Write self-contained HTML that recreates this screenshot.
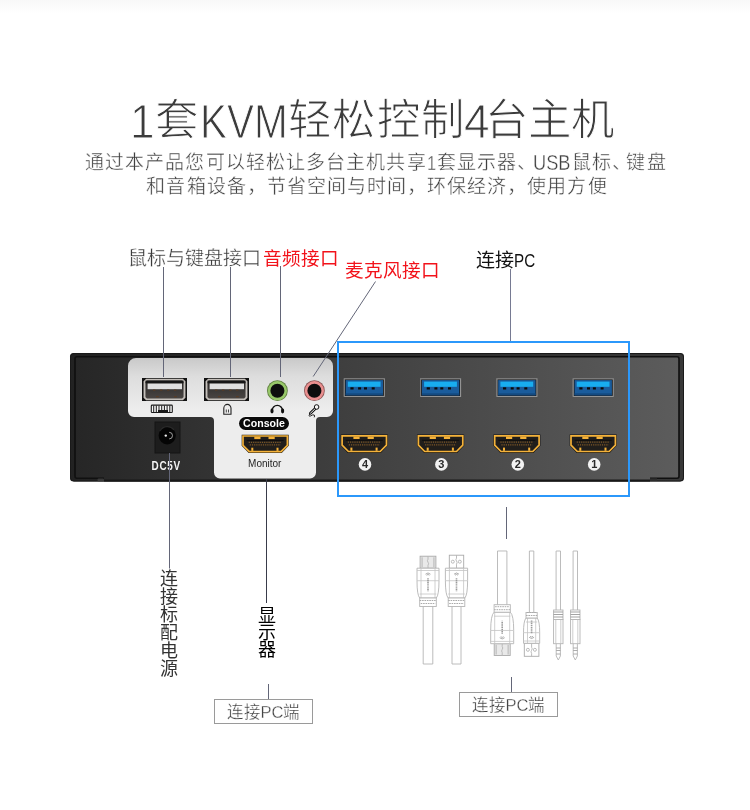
<!DOCTYPE html>
<html lang="zh-CN"><head><meta charset="utf-8">
<style>
html,body{margin:0;padding:0;background:#fff;width:750px;height:810px;overflow:hidden}
body{position:relative;font-family:"Liberation Sans",sans-serif}
.t{position:absolute;white-space:nowrap;line-height:1;will-change:transform}
svg{position:absolute;left:0;top:0}
</style></head><body>
<div style="position:absolute;left:0;top:0;width:750px;height:14px;background:linear-gradient(#f8f8f8,#fff)"></div>
<div class="t" id="title" style="left:130px;top:99px;font-size:43.5px;color:#3c3c3c;-webkit-text-stroke:1px #fff;"><span style="display:inline-block;font-size:49px;line-height:20px;position:relative;top:2.8px;transform:scaleX(0.9);transform-origin:0 0;margin-left:0px;margin-right:-2px">1</span>套<span style="display:inline-block;font-size:49px;line-height:20px;position:relative;top:2.8px;transform:scaleX(0.825);transform-origin:0 0;margin-left:2px;margin-right:-18.5px">KVM</span><span style="letter-spacing:1.5px">轻松控</span>制<span style="display:inline-block;font-size:49px;line-height:20px;position:relative;top:2.8px;transform:scaleX(0.94);transform-origin:0 0;margin-left:0px;margin-right:-6.6px">4</span>台主机</div>
<div class="t" id="sub1" style="left:85px;top:153px;font-size:19px;letter-spacing:1.1px;color:#404040;-webkit-text-stroke:0.4px #fff;">通过本产品您可以轻松让多台主机共享<span style="display:inline-block;font-size:20.5px;line-height:10px;position:relative;top:0.8px;transform:scaleX(0.8);transform-origin:0 0;margin-left:0px;margin-right:-1.5px;letter-spacing:0">1</span>套显示器<span style="margin-right:-4px">、</span><span style="display:inline-block;font-size:22.8px;line-height:10px;position:relative;top:0.8px;transform:scaleX(0.8);transform-origin:0 0;margin-left:0px;margin-right:-7.8px;letter-spacing:0">USB</span>鼠标<span style="margin-right:-6.1px">、</span>键盘</div>
<div class="t" id="sub2" style="left:0;width:750px;text-align:center;top:177px;font-size:19px;letter-spacing:1.05px;color:#404040;margin-left:2px;-webkit-text-stroke:0.4px #fff;">和音箱设备，节省空间与时间，环保经济，使用方便</div>

<div class="t" id="l1" style="left:128px;top:249px;font-size:19px;color:#3a3a3a;-webkit-text-stroke:0.3px #fff;">鼠标与键盘接口</div>
<div class="t" id="l2" style="left:263px;top:249.5px;font-size:18.6px;color:#f2121a">音频接口</div>
<div class="t" id="l3" style="left:344.5px;top:262px;font-size:18.6px;color:#f2121a">麦克风接口</div>
<div class="t" id="l4" style="left:476px;top:251px;font-size:19px;color:#111">连接<span style="display:inline-block;transform:scaleX(0.8);transform-origin:0 0">PC</span></div>

<svg width="750" height="810" viewBox="0 0 750 810">
<defs>
<linearGradient id="face" x1="74" x2="679" y1="0" y2="0" gradientUnits="userSpaceOnUse">
<stop offset="0" stop-color="#262626"/><stop offset="0.5" stop-color="#424242"/><stop offset="1" stop-color="#5c5c5c"/>
</linearGradient>
<linearGradient id="rim" x1="70" x2="684" y1="0" y2="0" gradientUnits="userSpaceOnUse"><stop offset="0" stop-color="#222"/><stop offset="1" stop-color="#383838"/></linearGradient>
<linearGradient id="panel" x1="0" y1="358" x2="0" y2="410" gradientUnits="userSpaceOnUse">
<stop offset="0" stop-color="#c9c9c9"/><stop offset="0.35" stop-color="#dddddd"/><stop offset="1" stop-color="#ededed"/>
</linearGradient>

<linearGradient id="usbin" x1="0" y1="0" x2="0" y2="1">
<stop offset="0" stop-color="#2a2827"/><stop offset="1" stop-color="#4a4644"/>
</linearGradient>
<g id="usba">
<rect x="0" y="0" width="45" height="23" fill="#121212"/>
<path d="M4.5,1.6 H40.5 L42.5,3.6 V19.4 L40.5,21.4 H4.5 L2.5,19.4 V3.6 Z" fill="url(#usbin)" stroke="#c4bfba" stroke-width="1.9"/>
<rect x="5.6" y="5.4" width="34.4" height="5.8" fill="#e0e0e0"/>
<rect x="3.5" y="2.6" width="38" height="2.6" fill="#161616"/>
<g fill="#5e3c22"><rect x="11" y="11.6" width="2.4" height="1"/><rect x="18" y="11.6" width="2.4" height="1"/><rect x="25" y="11.6" width="2.4" height="1"/><rect x="32" y="11.6" width="2.4" height="1"/><rect x="14" y="18.2" width="2.8" height="1"/><rect x="32" y="18.2" width="2.8" height="1"/></g>
</g>
<g id="usb3">
<rect x="0.5" y="0.5" width="40" height="17.6" fill="#0e0e0e" stroke="#a0a0a0" stroke-width="1"/>
<path d="M0.5,18.1 V0.5 H40.5" fill="none" stroke="#777" stroke-width="1"/>
<rect x="1.8" y="1.8" width="37.4" height="15.2" fill="#1a5c9c"/>
<rect x="1.8" y="15" width="37.4" height="2" fill="#144a80"/>
<rect x="4" y="3.3" width="32.8" height="5.2" fill="#18adf0"/>
<g fill="#0a0a0a"><rect x="6.6" y="9" width="3.2" height="2.2"/><rect x="14.3" y="9" width="3" height="2.2"/><rect x="20.2" y="9" width="3" height="2.2"/><rect x="27.9" y="9" width="3" height="2.2"/></g>
</g>
<g id="hdmi">
<path d="M0,0 H47 V11 L40,18.3 H7 L0,11 Z" fill="#121110"/>
<path d="M1.3,1.3 H45.7 V10.6 L39.4,16.9 H7.6 L1.3,10.6 Z" fill="#211e1b" stroke="#f4b23a" stroke-width="1.7"/>
<g fill="#f4b23a"><rect x="12.6" y="2" width="6.2" height="2.4"/><rect x="26.8" y="2" width="6.2" height="2.4"/><rect x="9.6" y="13" width="2" height="3.2"/><rect x="34.8" y="13" width="2" height="3.2"/></g>
<path d="M7,7.6 H40 M8,10.2 H39" stroke="#7e5828" stroke-width="1.3" stroke-dasharray="1.2 1"/>
<rect x="5" y="5.2" width="37" height="0.9" fill="#0c0b0a"/>
</g>
</defs>
<!-- device -->
<rect x="70" y="353" width="614" height="128.5" rx="3.5" fill="url(#rim)"/>
<rect x="70.5" y="353.5" width="613" height="127.5" rx="3.5" fill="none" stroke="#1a1a1a" stroke-width="1"/>
<rect x="75" y="356.8" width="604" height="121.4" rx="2" fill="url(#face)" stroke="#101010" stroke-width="1.6"/>
<rect x="104" y="476.5" width="546" height="3.3" fill="url(#face)"/>
<rect x="104" y="479.6" width="546" height="1.9" fill="#171717"/>
<rect x="97.5" y="478.6" width="6.5" height="2.6" rx="1" fill="#3a3a3a"/>
<rect x="650" y="478.3" width="7" height="2.4" fill="#2e2e2e"/>
<path d="M136,358 H325 A8,8 0 0 1 333,366 V411 A6,6 0 0 1 327,417 H320 A4,4 0 0 0 316,421 V472.5 A6,6 0 0 1 310,478.5 H220 A6,6 0 0 1 214,472.5 V421 A4,4 0 0 0 210,417 H134 A6,6 0 0 1 128,411 V366 A8,8 0 0 1 136,358 Z" fill="url(#panel)"/>
<!-- blue box -->
<!-- USB-A ports -->
<use href="#usba" x="142" y="378"/>
<use href="#usba" x="204" y="378"/>
<!-- keyboard icon -->
<rect x="151.3" y="405.1" width="21" height="7.4" rx="0.8" fill="#f6f6f6" stroke="#1a1a1a" stroke-width="1.1"/>
<g fill="#1a1a1a"><rect x="153.2" y="405.5" width="1" height="6.6"/><rect x="155.8" y="405.5" width="1" height="6.6"/><rect x="158.5" y="405.5" width="1" height="4.5"/><rect x="161.2" y="405.5" width="1" height="4.5"/><rect x="163.9" y="405.5" width="1" height="4.5"/><rect x="166.6" y="405.5" width="1" height="4.5"/><rect x="169.3" y="405.5" width="1" height="6.6"/><rect x="158" y="410" width="10" height="2.2"/></g>
<!-- mouse icon -->
<path d="M223.8,414.3 V408.2 A3.6,3.8 0 0 1 231,408.2 V414.3 Z" fill="none" stroke="#222" stroke-width="1.1"/>
<path d="M226.3,409.5 V412.5 M228.5,409.5 V412.5" stroke="#333" stroke-width="0.9"/>
<!-- jacks -->
<circle cx="277.4" cy="390.7" r="10.4" fill="#5f7f3f"/>
<circle cx="277.4" cy="390.7" r="9.6" fill="#98c86a"/>
<circle cx="277.4" cy="390.7" r="7" fill="#0e0e0e"/>
<circle cx="314.4" cy="390.7" r="10.4" fill="#8a5555"/>
<circle cx="314.4" cy="390.7" r="9.6" fill="#ea9090"/>
<circle cx="314.4" cy="390.7" r="7" fill="#0e0e0e"/>
<!-- headphone icon -->
<path d="M272,411 A5.3,5.6 0 0 1 282.6,411" fill="none" stroke="#111" stroke-width="1.4"/>
<ellipse cx="272" cy="411" rx="1.6" ry="2.4" fill="#111"/>
<ellipse cx="282.6" cy="411" rx="1.6" ry="2.4" fill="#111"/>
<!-- mic icon -->
<path d="M315.3,408.5 L310.4,413.3" stroke="#111" stroke-width="2.8" stroke-linecap="round"/>
<path d="M315.3,408.5 L310.4,413.3" stroke="#f4f4f4" stroke-width="1" stroke-linecap="round"/>
<circle cx="316.6" cy="407" r="2.3" fill="#f4f4f4" stroke="#111" stroke-width="1"/>
<path d="M310.2,413.8 Q307.6,416.4 310.4,416 Q313.2,414.2 314.2,415 Q315,416 314.2,417.3" fill="none" stroke="#111" stroke-width="0.9"/>
<!-- console -->
<rect x="238" y="416" width="52" height="15" rx="7.5" fill="#f4f4f4"/>
<rect x="239" y="417" width="50" height="13" rx="6.5" fill="#0a0a0a"/>
<text x="264" y="427.4" text-anchor="middle" font-family="Liberation Sans" font-weight="bold" font-size="10.6" fill="#fff">Console</text>
<use href="#hdmi" x="241.7" y="434.7"/>
<text x="264.8" y="466.5" text-anchor="middle" font-family="Liberation Sans" font-size="10" fill="#1e1e1e">Monitor</text>
<!-- DC jack -->
<rect x="155" y="422" width="25" height="31" fill="#1d1d1d" stroke="#141414" stroke-width="1"/>
<ellipse cx="167.2" cy="435.5" rx="8.6" ry="9" fill="#050505"/>
<path d="M160,431 A8.6,9 0 0 1 174,430" fill="none" stroke="#2a2a2a" stroke-width="1.2"/>
<circle cx="165.8" cy="435.6" r="1.2" fill="#f0f0f0"/>
<path d="M169.2,432.3 A3.3,3.3 0 1 1 169.2,438.9" fill="none" stroke="#b0b0b0" stroke-width="0.9"/>
<text x="189.5" y="470.3" font-family="Liberation Sans" font-weight="bold" font-size="12.4" fill="#f4f4f4" transform="scale(0.8,1)" textLength="35.6" lengthAdjust="spacing">DC5V</text>
<!-- right ports -->
<use href="#usb3" x="343.8" y="378.3"/>
<use href="#usb3" x="420.1" y="378.3"/>
<use href="#usb3" x="496.4" y="378.3"/>
<use href="#usb3" x="572.7" y="378.3"/>
<use href="#hdmi" x="340.8" y="434.6"/>
<use href="#hdmi" x="417.1" y="434.6"/>
<use href="#hdmi" x="493.4" y="434.6"/>
<use href="#hdmi" x="569.7" y="434.6"/>
<g fill="#f2f2f2"><circle cx="365" cy="464.4" r="6.3"/><circle cx="441.4" cy="464.4" r="6.3"/><circle cx="517.8" cy="464.4" r="6.3"/><circle cx="594.2" cy="464.4" r="6.3"/></g>
<g font-family="Liberation Sans" font-weight="bold" font-size="11" fill="#2a2a2a" text-anchor="middle">
<text x="365" y="468.4">4</text><text x="441.4" y="468.4">3</text><text x="517.8" y="468.4">2</text><text x="594.2" y="468.4">1</text></g>
<!-- blue box -->
<rect x="338" y="342" width="291" height="154" fill="none" stroke="#2b98fb" stroke-width="2"/>
<!-- lines -->
<g stroke="#636678" stroke-width="1" fill="none">
<line x1="163.5" y1="267" x2="163.5" y2="377"/>
<line x1="230.5" y1="267" x2="230.5" y2="377"/>
<line x1="280.5" y1="266" x2="280.5" y2="377"/>
<line x1="375.5" y1="281.5" x2="313.2" y2="376.5"/>
<line x1="510.5" y1="269" x2="510.5" y2="341" stroke="#767a92"/>
</g>
<!-- cables -->
<rect x="420.1" y="556.2" width="15.8" height="12" fill="#e9e9e9" stroke="#aaa" stroke-width="0.9"/>
<path d="M422.1,557.2 V567.2 M433.9,557.2 V567.2" stroke="#c8c8c8" stroke-width="1.6"/>
<path d="M428,556.2 v3 q-1.2,1.5 0,3 q1.2,1.5 0,3 v3" stroke="#b4b4b4" stroke-width="0.9" fill="none"/>
<path d="M417,568.2 H439 V580.716 Q439,595 436.3,598 H419.7 Q417,595 417,580.716 Z" fill="#fff" stroke="#b4b4b4" stroke-width="0.9" stroke-width="0.9"/>
<path d="M421,568.2 V598 M435,568.2 V598 M417,570.5 H439 M417,580.716 H439 M419.7,594 H436.3" stroke="#c4c4c4" stroke-width="0.8" fill="none"/>
<path d="M425.5,574.2 q2.5,-2.5 5,0 M426.5,575.2 q1.5,-1.5 3,0" stroke="#999" stroke-width="0.8" fill="none"/>
<path d="M428,578.2 V591.2" stroke="#9a9a9a" stroke-width="1.6" stroke-dasharray="1.2 0.6" fill="none"/>
<rect x="419.7" y="598" width="16.6" height="8.5" fill="#fff" stroke="#b4b4b4" stroke-width="0.9" fill="none"/>
<path d="M419.7,600.5 H436.3 M420.7,603.5 H435.3" stroke="#aaa" stroke-width="1" stroke-dasharray="1.6 0.8" fill="none"/>
<path d="M423.2,606.5 V664 H432.8 V606.5" stroke="#b4b4b4" stroke-width="0.9" fill="none"/>
<rect x="449.3" y="555.2" width="14.4" height="13" fill="#fff" stroke="#aaa" stroke-width="0.9"/>
<circle cx="452.8" cy="561.7" r="1.5" stroke="#b4b4b4" stroke-width="0.9" fill="none"/><circle cx="459.8" cy="561.7" r="1.5" stroke="#b4b4b4" stroke-width="0.9" fill="none"/>
<path d="M456.5,555.2 v3 q-1.2,1.5 0,3 q1.2,1.5 0,3 v4" stroke="#b4b4b4" stroke-width="0.9" fill="none"/>
<path d="M445.4,568.2 H467.6 V580.716 Q467.6,595 464.8,598 H448.2 Q445.4,595 445.4,580.716 Z" fill="#fff" stroke="#b4b4b4" stroke-width="0.9" stroke-width="0.9"/>
<path d="M449.4,568.2 V598 M463.6,568.2 V598 M445.4,570.5 H467.6 M445.4,580.716 H467.6 M448.2,594 H464.8" stroke="#c4c4c4" stroke-width="0.8" fill="none"/>
<path d="M454.0,574.2 q2.5,-2.5 5,0 M455.0,575.2 q1.5,-1.5 3,0" stroke="#999" stroke-width="0.8" fill="none"/>
<path d="M456.5,578.2 V591.2" stroke="#9a9a9a" stroke-width="1.6" stroke-dasharray="1.2 0.6" fill="none"/>
<rect x="448.2" y="598" width="16.6" height="8.5" fill="#fff" stroke="#b4b4b4" stroke-width="0.9" fill="none"/>
<path d="M448.2,600.5 H464.8 M449.2,603.5 H463.8" stroke="#aaa" stroke-width="1" stroke-dasharray="1.6 0.8" fill="none"/>
<path d="M452.0,606.5 V664 H461.0 V606.5" stroke="#b4b4b4" stroke-width="0.9" fill="none"/>
<g transform="translate(0,1211.7) scale(1,-1)">
<rect x="494.2" y="556.2" width="16" height="11.8" fill="#e9e9e9" stroke="#aaa" stroke-width="0.9"/>
<path d="M496.2,557.2 V567.0 M508.2,557.2 V567.0" stroke="#c8c8c8" stroke-width="1.6"/>
<path d="M502.2,556.2 v3 q-1.2,1.5 0,3 q1.2,1.5 0,3 v2.8000000000000007" stroke="#b4b4b4" stroke-width="0.9" fill="none"/>
<path d="M490.7,568 H513.7 V581.23 Q513.7,596.5 510.3,599.5 H494.09999999999997 Q490.7,596.5 490.7,581.23 Z" fill="#fff" stroke="#b4b4b4" stroke-width="0.9" stroke-width="0.9"/>
<path d="M494.7,568 V599.5 M509.70000000000005,568 V599.5 M490.7,570.3 H513.7 M490.7,581.23 H513.7 M494.09999999999997,595.5 H510.3" stroke="#c4c4c4" stroke-width="0.8" fill="none"/>
<path d="M499.7,574 q2.5,-2.5 5,0 M500.7,575 q1.5,-1.5 3,0" stroke="#999" stroke-width="0.8" fill="none"/>
<path d="M502.2,578 V591" stroke="#9a9a9a" stroke-width="1.6" stroke-dasharray="1.2 0.6" fill="none"/>
<rect x="494.09999999999997" y="599.5" width="16.2" height="7.5" fill="#fff" stroke="#b4b4b4" stroke-width="0.9" fill="none"/>
<path d="M494.09999999999997,602.0 H510.3 M495.09999999999997,605.0 H509.3" stroke="#aaa" stroke-width="1" stroke-dasharray="1.6 0.8" fill="none"/>
<path d="M497.5,607 V660.7 H506.9 V607" stroke="#b4b4b4" stroke-width="0.9" fill="none"/>
</g>
<g transform="translate(0,1211.5) scale(1,-1)">
<rect x="524.3000000000001" y="555.2" width="14.6" height="13" fill="#fff" stroke="#aaa" stroke-width="0.9"/>
<circle cx="527.9" cy="561.7" r="1.5" stroke="#b4b4b4" stroke-width="0.9" fill="none"/><circle cx="534.9" cy="561.7" r="1.5" stroke="#b4b4b4" stroke-width="0.9" fill="none"/>
<path d="M531.6,555.2 v3 q-1.2,1.5 0,3 q1.2,1.5 0,3 v4" stroke="#b4b4b4" stroke-width="0.9" fill="none"/>
<path d="M523.5,568.2 H539.7 V578.826 Q539.7,590.5 537.2,593.5 H526.0 Q523.5,590.5 523.5,578.826 Z" fill="#fff" stroke="#b4b4b4" stroke-width="0.9" stroke-width="0.9"/>
<path d="M527.5,568.2 V593.5 M535.7,568.2 V593.5 M523.5,570.5 H539.7 M523.5,578.826 H539.7 M526.0,589.5 H537.2" stroke="#c4c4c4" stroke-width="0.8" fill="none"/>
<path d="M529.1,574.2 q2.5,-2.5 5,0 M530.1,575.2 q1.5,-1.5 3,0" stroke="#999" stroke-width="0.8" fill="none"/>
<path d="M531.6,578.2 V591.2" stroke="#9a9a9a" stroke-width="1.6" stroke-dasharray="1.2 0.6" fill="none"/>
<rect x="526.0" y="593.5" width="11.2" height="5.5" fill="#fff" stroke="#b4b4b4" stroke-width="0.9" fill="none"/>
<path d="M526.0,596.0 H537.2 M527.0,599.0 H536.2" stroke="#aaa" stroke-width="1" stroke-dasharray="1.6 0.8" fill="none"/>
<path d="M529.4,599 V660.5 H533.8000000000001 V599" stroke="#b4b4b4" stroke-width="0.9" fill="none"/>
</g>
<path d="M556.0999999999999,551 V610 M560.5,551 V610 M556.0999999999999,551 H560.5" stroke="#b4b4b4" stroke-width="0.9" fill="none"/>
<rect x="553.5999999999999" y="610" width="9.4" height="9.5" fill="#fff" stroke="#b4b4b4" stroke-width="0.9" fill="none"/>
<path d="M553.5999999999999,612 H563.0 M553.5999999999999,614.5 H563.0 M553.5999999999999,617 H563.0" stroke="#999" stroke-width="0.9" fill="none"/>
<rect x="553.5999999999999" y="619.5" width="9.4" height="24.2" fill="#fff" stroke="#b4b4b4" stroke-width="0.9" fill="none"/>
<path d="M555.8,619.5 V643.7 M560.8,619.5 V643.7" stroke="#c0c0c0" stroke-width="0.8"/>
<path d="M556.1999999999999,643.7 V656 L558.3,660 L560.4,656 V643.7" stroke="#b4b4b4" stroke-width="0.9" fill="none"/>
<path d="M556.1999999999999,648 H560.4 M556.1999999999999,650.5 H560.4 M556.1999999999999,654 H560.4" stroke="#999" stroke-width="0.8"/>
<path d="M573.0999999999999,551 V610 M577.5,551 V610 M573.0999999999999,551 H577.5" stroke="#b4b4b4" stroke-width="0.9" fill="none"/>
<rect x="570.5999999999999" y="610" width="9.4" height="9.5" fill="#fff" stroke="#b4b4b4" stroke-width="0.9" fill="none"/>
<path d="M570.5999999999999,612 H580.0 M570.5999999999999,614.5 H580.0 M570.5999999999999,617 H580.0" stroke="#999" stroke-width="0.9" fill="none"/>
<rect x="570.5999999999999" y="619.5" width="9.4" height="24.2" fill="#fff" stroke="#b4b4b4" stroke-width="0.9" fill="none"/>
<path d="M572.8,619.5 V643.7 M577.8,619.5 V643.7" stroke="#c0c0c0" stroke-width="0.8"/>
<path d="M573.1999999999999,643.7 V656 L575.3,660 L577.4,656 V643.7" stroke="#b4b4b4" stroke-width="0.9" fill="none"/>
<path d="M573.1999999999999,648 H577.4 M573.1999999999999,650.5 H577.4 M573.1999999999999,654 H577.4" stroke="#999" stroke-width="0.8"/>
<!-- /cables -->
<!-- bottom lines -->
<g stroke="#636678" stroke-width="1" fill="none">
<line x1="169.5" y1="453" x2="169.5" y2="568.5"/>
<line x1="266.5" y1="479" x2="266.5" y2="603" stroke="#393b4a"/>
<line x1="268.5" y1="684" x2="268.5" y2="699"/>
<line x1="506.5" y1="507" x2="506.5" y2="539"/>
<line x1="511.5" y1="677" x2="511.5" y2="692"/>
</g>
<rect x="214.5" y="699.5" width="98" height="24" fill="none" stroke="#9a9a9a" stroke-width="1"/>
<rect x="459.5" y="692.5" width="98" height="24" fill="none" stroke="#9a9a9a" stroke-width="1"/>
</svg>

<div class="t" id="v1" style="left:160px;top:570px;font-size:18px;line-height:18px;width:18px;white-space:normal;color:#333;">连<br>接<br>标<br>配<br>电<br>源</div>
<div class="t" id="v2" style="left:258px;top:608px;font-size:18px;line-height:17.2px;width:18px;white-space:normal;color:#000">显<br>示<br>器</div>
<div class="t" id="b1" style="left:214px;top:703.5px;width:99px;text-align:center;font-size:16.5px;color:#444;-webkit-text-stroke:0.3px #fff;">连接PC端</div>
<div class="t" id="b2" style="left:459px;top:696.5px;width:99px;text-align:center;font-size:16.5px;color:#444;-webkit-text-stroke:0.3px #fff;">连接PC端</div>
</body></html>
